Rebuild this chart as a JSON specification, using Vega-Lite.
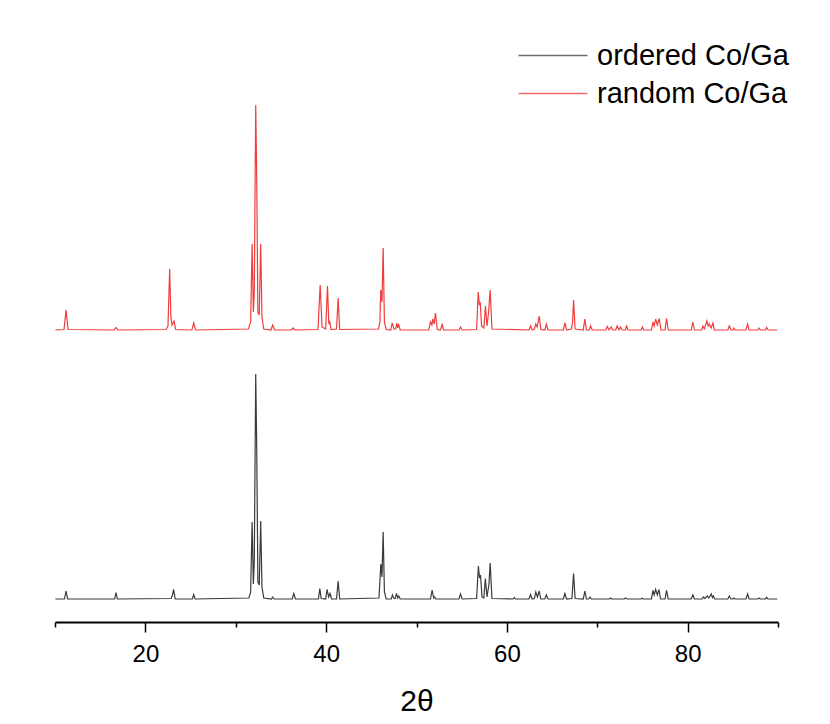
{
  "$schema": "https://vega.github.io/schema/vega-lite/v6.json",
  "width": 723,
  "height": 602,
  "autosize": {"type": "none"},
  "padding": {"left": 55, "top": 20, "right": 52, "bottom": 102},
  "background": "white",
  "config": {"view": {"stroke": null}, "font": "Liberation Sans"},
  "data": {"values": [
    {"s":"random Co/Ga","x":10.05,"y":292},{"s":"random Co/Ga","x":11.0,"y":292.5},{"s":"random Co/Ga","x":11.22,"y":312},{"s":"random Co/Ga","x":11.45,"y":292.5},
    {"s":"random Co/Ga","x":16.55,"y":292},{"s":"random Co/Ga","x":16.75,"y":294.5},{"s":"random Co/Ga","x":16.95,"y":292},
    {"s":"random Co/Ga","x":22.3,"y":292.5},{"s":"random Co/Ga","x":22.5,"y":296},{"s":"random Co/Ga","x":22.69,"y":353},{"s":"random Co/Ga","x":22.82,"y":305},{"s":"random Co/Ga","x":22.95,"y":297},{"s":"random Co/Ga","x":23.17,"y":301},{"s":"random Co/Ga","x":23.35,"y":292.5},
    {"s":"random Co/Ga","x":25.15,"y":292},{"s":"random Co/Ga","x":25.35,"y":299},{"s":"random Co/Ga","x":25.55,"y":292},
    {"s":"random Co/Ga","x":31.4,"y":293},{"s":"random Co/Ga","x":31.65,"y":300},{"s":"random Co/Ga","x":31.81,"y":378},{"s":"random Co/Ga","x":31.95,"y":310},{"s":"random Co/Ga","x":32.05,"y":330},{"s":"random Co/Ga","x":32.21,"y":517},{"s":"random Co/Ga","x":32.32,"y":444},{"s":"random Co/Ga","x":32.45,"y":310},{"s":"random Co/Ga","x":32.6,"y":307},{"s":"random Co/Ga","x":32.76,"y":378},{"s":"random Co/Ga","x":32.9,"y":305},{"s":"random Co/Ga","x":33.1,"y":293},
    {"s":"random Co/Ga","x":33.9,"y":292},{"s":"random Co/Ga","x":34.09,"y":297},{"s":"random Co/Ga","x":34.3,"y":292},
    {"s":"random Co/Ga","x":36.15,"y":292},{"s":"random Co/Ga","x":36.35,"y":294},{"s":"random Co/Ga","x":36.55,"y":292},
    {"s":"random Co/Ga","x":39.1,"y":292.5},{"s":"random Co/Ga","x":39.34,"y":337},{"s":"random Co/Ga","x":39.55,"y":295},{"s":"random Co/Ga","x":39.95,"y":293},{"s":"random Co/Ga","x":40.15,"y":336},{"s":"random Co/Ga","x":40.3,"y":298},{"s":"random Co/Ga","x":40.4,"y":300},{"s":"random Co/Ga","x":40.55,"y":292.5},
    {"s":"random Co/Ga","x":41.15,"y":293},{"s":"random Co/Ga","x":41.33,"y":324},{"s":"random Co/Ga","x":41.5,"y":292.5},
    {"s":"random Co/Ga","x":45.8,"y":293},{"s":"random Co/Ga","x":45.95,"y":300},{"s":"random Co/Ga","x":46.05,"y":332},{"s":"random Co/Ga","x":46.18,"y":320},{"s":"random Co/Ga","x":46.31,"y":374},{"s":"random Co/Ga","x":46.45,"y":300},{"s":"random Co/Ga","x":46.65,"y":292.5},
    {"s":"random Co/Ga","x":47.15,"y":292},{"s":"random Co/Ga","x":47.31,"y":299},{"s":"random Co/Ga","x":47.5,"y":293},{"s":"random Co/Ga","x":47.7,"y":293},{"s":"random Co/Ga","x":47.82,"y":299},{"s":"random Co/Ga","x":47.92,"y":294},{"s":"random Co/Ga","x":48.0,"y":298},{"s":"random Co/Ga","x":48.2,"y":292},
    {"s":"random Co/Ga","x":51.35,"y":292},{"s":"random Co/Ga","x":51.55,"y":300},{"s":"random Co/Ga","x":51.7,"y":297},{"s":"random Co/Ga","x":51.8,"y":303},{"s":"random Co/Ga","x":51.95,"y":298},{"s":"random Co/Ga","x":52.1,"y":309},{"s":"random Co/Ga","x":52.3,"y":292.5},
    {"s":"random Co/Ga","x":52.65,"y":292},{"s":"random Co/Ga","x":52.84,"y":297.5},{"s":"random Co/Ga","x":53.0,"y":292},
    {"s":"random Co/Ga","x":54.7,"y":292},{"s":"random Co/Ga","x":54.87,"y":295},{"s":"random Co/Ga","x":55.05,"y":292},
    {"s":"random Co/Ga","x":56.65,"y":292.5},{"s":"random Co/Ga","x":56.83,"y":330},{"s":"random Co/Ga","x":56.95,"y":318},{"s":"random Co/Ga","x":57.05,"y":320},{"s":"random Co/Ga","x":57.2,"y":296},{"s":"random Co/Ga","x":57.45,"y":294},{"s":"random Co/Ga","x":57.63,"y":316},{"s":"random Co/Ga","x":57.8,"y":296},{"s":"random Co/Ga","x":57.98,"y":310},{"s":"random Co/Ga","x":58.15,"y":332},{"s":"random Co/Ga","x":58.35,"y":293},
    {"s":"random Co/Ga","x":62.45,"y":292},{"s":"random Co/Ga","x":62.62,"y":296},{"s":"random Co/Ga","x":62.8,"y":292},{"s":"random Co/Ga","x":63.05,"y":293},{"s":"random Co/Ga","x":63.2,"y":298},{"s":"random Co/Ga","x":63.35,"y":295},{"s":"random Co/Ga","x":63.58,"y":306},{"s":"random Co/Ga","x":63.75,"y":292.5},
    {"s":"random Co/Ga","x":64.2,"y":292},{"s":"random Co/Ga","x":64.37,"y":298},{"s":"random Co/Ga","x":64.55,"y":292},
    {"s":"random Co/Ga","x":66.25,"y":292},{"s":"random Co/Ga","x":66.42,"y":299},{"s":"random Co/Ga","x":66.6,"y":292},
    {"s":"random Co/Ga","x":67.15,"y":293},{"s":"random Co/Ga","x":67.27,"y":300},{"s":"random Co/Ga","x":67.38,"y":322},{"s":"random Co/Ga","x":67.55,"y":293},
    {"s":"random Co/Ga","x":68.45,"y":292},{"s":"random Co/Ga","x":68.63,"y":303},{"s":"random Co/Ga","x":68.8,"y":292},
    {"s":"random Co/Ga","x":69.1,"y":292},{"s":"random Co/Ga","x":69.26,"y":296},{"s":"random Co/Ga","x":69.45,"y":292},
    {"s":"random Co/Ga","x":70.95,"y":292},{"s":"random Co/Ga","x":71.1,"y":295.5},{"s":"random Co/Ga","x":71.3,"y":292},{"s":"random Co/Ga","x":71.55,"y":295},{"s":"random Co/Ga","x":71.7,"y":292},
    {"s":"random Co/Ga","x":72.05,"y":292},{"s":"random Co/Ga","x":72.2,"y":296},{"s":"random Co/Ga","x":72.4,"y":292},{"s":"random Co/Ga","x":72.58,"y":295},{"s":"random Co/Ga","x":72.75,"y":292},
    {"s":"random Co/Ga","x":73.1,"y":292},{"s":"random Co/Ga","x":73.25,"y":296},{"s":"random Co/Ga","x":73.4,"y":292},
    {"s":"random Co/Ga","x":74.85,"y":292},{"s":"random Co/Ga","x":75.0,"y":295},{"s":"random Co/Ga","x":75.15,"y":292},
    {"s":"random Co/Ga","x":76.0,"y":292},{"s":"random Co/Ga","x":76.16,"y":300},{"s":"random Co/Ga","x":76.3,"y":296},{"s":"random Co/Ga","x":76.46,"y":303},{"s":"random Co/Ga","x":76.65,"y":297},{"s":"random Co/Ga","x":76.86,"y":303.5},{"s":"random Co/Ga","x":77.05,"y":292},
    {"s":"random Co/Ga","x":77.5,"y":292},{"s":"random Co/Ga","x":77.67,"y":303.5},{"s":"random Co/Ga","x":77.85,"y":292},
    {"s":"random Co/Ga","x":80.4,"y":292},{"s":"random Co/Ga","x":80.58,"y":300},{"s":"random Co/Ga","x":80.75,"y":292},
    {"s":"random Co/Ga","x":81.55,"y":292},{"s":"random Co/Ga","x":81.69,"y":296},{"s":"random Co/Ga","x":81.85,"y":293},{"s":"random Co/Ga","x":82.13,"y":301},{"s":"random Co/Ga","x":82.28,"y":296},{"s":"random Co/Ga","x":82.4,"y":298},{"s":"random Co/Ga","x":82.6,"y":294},{"s":"random Co/Ga","x":82.8,"y":299},{"s":"random Co/Ga","x":82.95,"y":292},
    {"s":"random Co/Ga","x":84.45,"y":292},{"s":"random Co/Ga","x":84.61,"y":296},{"s":"random Co/Ga","x":84.8,"y":292},{"s":"random Co/Ga","x":85.0,"y":292},{"s":"random Co/Ga","x":85.12,"y":294},{"s":"random Co/Ga","x":85.25,"y":292},
    {"s":"random Co/Ga","x":86.45,"y":292},{"s":"random Co/Ga","x":86.64,"y":298},{"s":"random Co/Ga","x":86.8,"y":292},
    {"s":"random Co/Ga","x":87.75,"y":292},{"s":"random Co/Ga","x":87.89,"y":294},{"s":"random Co/Ga","x":88.05,"y":292},
    {"s":"random Co/Ga","x":88.6,"y":292},{"s":"random Co/Ga","x":88.74,"y":294.5},{"s":"random Co/Ga","x":88.9,"y":292},{"s":"random Co/Ga","x":89.93,"y":292},

    {"s":"ordered Co/Ga","x":10.05,"y":23},{"s":"ordered Co/Ga","x":11.05,"y":23},{"s":"ordered Co/Ga","x":11.22,"y":31},{"s":"ordered Co/Ga","x":11.4,"y":23},
    {"s":"ordered Co/Ga","x":16.6,"y":23},{"s":"ordered Co/Ga","x":16.75,"y":29.5},{"s":"ordered Co/Ga","x":16.9,"y":23},
    {"s":"ordered Co/Ga","x":22.85,"y":23.5},{"s":"ordered Co/Ga","x":23.0,"y":27},{"s":"ordered Co/Ga","x":23.13,"y":32.5},{"s":"ordered Co/Ga","x":23.3,"y":23},
    {"s":"ordered Co/Ga","x":25.2,"y":23},{"s":"ordered Co/Ga","x":25.35,"y":27.5},{"s":"ordered Co/Ga","x":25.5,"y":23},
    {"s":"ordered Co/Ga","x":31.45,"y":24},{"s":"ordered Co/Ga","x":31.65,"y":30},{"s":"ordered Co/Ga","x":31.81,"y":100},{"s":"ordered Co/Ga","x":31.95,"y":38},{"s":"ordered Co/Ga","x":32.05,"y":60},{"s":"ordered Co/Ga","x":32.21,"y":248},{"s":"ordered Co/Ga","x":32.32,"y":175},{"s":"ordered Co/Ga","x":32.45,"y":40},{"s":"ordered Co/Ga","x":32.6,"y":37},{"s":"ordered Co/Ga","x":32.76,"y":101},{"s":"ordered Co/Ga","x":32.9,"y":35},{"s":"ordered Co/Ga","x":33.1,"y":24},
    {"s":"ordered Co/Ga","x":33.95,"y":23},{"s":"ordered Co/Ga","x":34.09,"y":25},{"s":"ordered Co/Ga","x":34.25,"y":23},
    {"s":"ordered Co/Ga","x":36.25,"y":23},{"s":"ordered Co/Ga","x":36.42,"y":28.5},{"s":"ordered Co/Ga","x":36.6,"y":23},
    {"s":"ordered Co/Ga","x":39.15,"y":23},{"s":"ordered Co/Ga","x":39.3,"y":33.5},{"s":"ordered Co/Ga","x":39.45,"y":23.5},{"s":"ordered Co/Ga","x":39.95,"y":23},{"s":"ordered Co/Ga","x":40.1,"y":32.5},{"s":"ordered Co/Ga","x":40.28,"y":25},{"s":"ordered Co/Ga","x":40.43,"y":28.5},{"s":"ordered Co/Ga","x":40.6,"y":23},
    {"s":"ordered Co/Ga","x":41.15,"y":23},{"s":"ordered Co/Ga","x":41.33,"y":41},{"s":"ordered Co/Ga","x":41.5,"y":23},
    {"s":"ordered Co/Ga","x":45.85,"y":24},{"s":"ordered Co/Ga","x":46.05,"y":58},{"s":"ordered Co/Ga","x":46.18,"y":45},{"s":"ordered Co/Ga","x":46.31,"y":90},{"s":"ordered Co/Ga","x":46.45,"y":30},{"s":"ordered Co/Ga","x":46.65,"y":23},
    {"s":"ordered Co/Ga","x":47.2,"y":23},{"s":"ordered Co/Ga","x":47.34,"y":27},{"s":"ordered Co/Ga","x":47.5,"y":23.5},{"s":"ordered Co/Ga","x":47.65,"y":23.5},{"s":"ordered Co/Ga","x":47.78,"y":28.5},{"s":"ordered Co/Ga","x":47.92,"y":24},{"s":"ordered Co/Ga","x":48.04,"y":26},{"s":"ordered Co/Ga","x":48.2,"y":23},
    {"s":"ordered Co/Ga","x":51.55,"y":23},{"s":"ordered Co/Ga","x":51.73,"y":32},{"s":"ordered Co/Ga","x":51.9,"y":24},{"s":"ordered Co/Ga","x":52.0,"y":25},{"s":"ordered Co/Ga","x":52.15,"y":23},
    {"s":"ordered Co/Ga","x":54.7,"y":23},{"s":"ordered Co/Ga","x":54.87,"y":28},{"s":"ordered Co/Ga","x":55.05,"y":23},
    {"s":"ordered Co/Ga","x":56.65,"y":23.5},{"s":"ordered Co/Ga","x":56.85,"y":56},{"s":"ordered Co/Ga","x":56.97,"y":44},{"s":"ordered Co/Ga","x":57.08,"y":47},{"s":"ordered Co/Ga","x":57.25,"y":25},{"s":"ordered Co/Ga","x":57.45,"y":24},{"s":"ordered Co/Ga","x":57.62,"y":43.5},{"s":"ordered Co/Ga","x":57.8,"y":25},{"s":"ordered Co/Ga","x":58.02,"y":38},{"s":"ordered Co/Ga","x":58.15,"y":59},{"s":"ordered Co/Ga","x":58.35,"y":23.5},
    {"s":"ordered Co/Ga","x":60.7,"y":23},{"s":"ordered Co/Ga","x":60.82,"y":24.5},{"s":"ordered Co/Ga","x":60.95,"y":23},
    {"s":"ordered Co/Ga","x":62.45,"y":23},{"s":"ordered Co/Ga","x":62.62,"y":27.5},{"s":"ordered Co/Ga","x":62.8,"y":23},{"s":"ordered Co/Ga","x":63.05,"y":23.5},{"s":"ordered Co/Ga","x":63.2,"y":30},{"s":"ordered Co/Ga","x":63.38,"y":25},{"s":"ordered Co/Ga","x":63.58,"y":31},{"s":"ordered Co/Ga","x":63.75,"y":23},
    {"s":"ordered Co/Ga","x":64.2,"y":23},{"s":"ordered Co/Ga","x":64.37,"y":27},{"s":"ordered Co/Ga","x":64.55,"y":23},
    {"s":"ordered Co/Ga","x":66.25,"y":23},{"s":"ordered Co/Ga","x":66.42,"y":28.5},{"s":"ordered Co/Ga","x":66.6,"y":23},
    {"s":"ordered Co/Ga","x":67.2,"y":23.5},{"s":"ordered Co/Ga","x":67.38,"y":48.5},{"s":"ordered Co/Ga","x":67.55,"y":23.5},
    {"s":"ordered Co/Ga","x":68.45,"y":23},{"s":"ordered Co/Ga","x":68.63,"y":31},{"s":"ordered Co/Ga","x":68.8,"y":23},{"s":"ordered Co/Ga","x":69.05,"y":23},{"s":"ordered Co/Ga","x":69.2,"y":25},{"s":"ordered Co/Ga","x":69.35,"y":23},
    {"s":"ordered Co/Ga","x":71.35,"y":23},{"s":"ordered Co/Ga","x":71.48,"y":24},{"s":"ordered Co/Ga","x":71.6,"y":23},
    {"s":"ordered Co/Ga","x":73.0,"y":23},{"s":"ordered Co/Ga","x":73.14,"y":24},{"s":"ordered Co/Ga","x":73.3,"y":23},
    {"s":"ordered Co/Ga","x":74.85,"y":23},{"s":"ordered Co/Ga","x":74.98,"y":23.8},{"s":"ordered Co/Ga","x":75.1,"y":23},
    {"s":"ordered Co/Ga","x":76.0,"y":23},{"s":"ordered Co/Ga","x":76.16,"y":31.7},{"s":"ordered Co/Ga","x":76.3,"y":27},{"s":"ordered Co/Ga","x":76.46,"y":32.5},{"s":"ordered Co/Ga","x":76.65,"y":27},{"s":"ordered Co/Ga","x":76.83,"y":32.5},{"s":"ordered Co/Ga","x":77.0,"y":23},
    {"s":"ordered Co/Ga","x":77.5,"y":23},{"s":"ordered Co/Ga","x":77.67,"y":31.7},{"s":"ordered Co/Ga","x":77.85,"y":23},
    {"s":"ordered Co/Ga","x":80.4,"y":23},{"s":"ordered Co/Ga","x":80.58,"y":27},{"s":"ordered Co/Ga","x":80.75,"y":23},
    {"s":"ordered Co/Ga","x":81.6,"y":23},{"s":"ordered Co/Ga","x":81.74,"y":25},{"s":"ordered Co/Ga","x":81.9,"y":23.5},{"s":"ordered Co/Ga","x":82.18,"y":26},{"s":"ordered Co/Ga","x":82.35,"y":24},{"s":"ordered Co/Ga","x":82.62,"y":28},{"s":"ordered Co/Ga","x":82.75,"y":24.5},{"s":"ordered Co/Ga","x":82.85,"y":26},{"s":"ordered Co/Ga","x":83.0,"y":23},
    {"s":"ordered Co/Ga","x":84.45,"y":23},{"s":"ordered Co/Ga","x":84.61,"y":26},{"s":"ordered Co/Ga","x":84.8,"y":23},{"s":"ordered Co/Ga","x":85.0,"y":23},{"s":"ordered Co/Ga","x":85.12,"y":24},{"s":"ordered Co/Ga","x":85.25,"y":23},
    {"s":"ordered Co/Ga","x":86.45,"y":23},{"s":"ordered Co/Ga","x":86.64,"y":28},{"s":"ordered Co/Ga","x":86.8,"y":23},
    {"s":"ordered Co/Ga","x":87.75,"y":23},{"s":"ordered Co/Ga","x":87.89,"y":24},{"s":"ordered Co/Ga","x":88.05,"y":23},
    {"s":"ordered Co/Ga","x":88.6,"y":23},{"s":"ordered Co/Ga","x":88.74,"y":24.5},{"s":"ordered Co/Ga","x":88.9,"y":23},{"s":"ordered Co/Ga","x":89.93,"y":23}
  ]},
  "mark": {"type": "line", "strokeWidth": 1.2, "interpolate": "linear"},
  "encoding": {
    "x": {
      "field": "x", "type": "quantitative",
      "scale": {"domain": [10, 90], "nice": false, "zero": false},
      "axis": {
        "values": [10, 20, 30, 40, 50, 60, 70, 80, 90],
        "labelExpr": "datum.value % 20 === 0 ? datum.label : ''",
        "tickSize": {"condition": {"test": "datum.value % 20 === 0", "value": 10}, "value": 5},
        "tickWidth": 1.5, "tickColor": "black",
        "domainColor": "black", "domainWidth": 2,
        "grid": false,
        "labelFont": "Liberation Sans", "labelFontSize": 24, "labelColor": "black", "labelPadding": 10,
        "title": "2θ", "titleFont": "Liberation Sans", "titleFontSize": 30, "titleFontWeight": "normal", "titleColor": "black", "titlePadding": 20
      }
    },
    "y": {
      "field": "y", "type": "quantitative",
      "scale": {"domain": [0, 602], "nice": false, "zero": false},
      "axis": null
    },
    "color": {
      "field": "s", "type": "nominal",
      "scale": {"domain": ["ordered Co/Ga", "random Co/Ga"], "range": ["#3a3a3a", "#f03c3c"]},
      "legend": {
        "title": null, "orient": "none", "legendX": 459, "legendY": 21,
        "symbolType": "M-1,0H5.9", "symbolSize": 400, "symbolStrokeWidth": 1.5, "symbolOpacity": 0.75,
        "labelFont": "Liberation Sans", "labelFontSize": 29, "labelColor": "black", "labelOffset": 54, "labelLimit": 0,
        "rowPadding": 8, "padding": 0
      }
    }
  }
}
